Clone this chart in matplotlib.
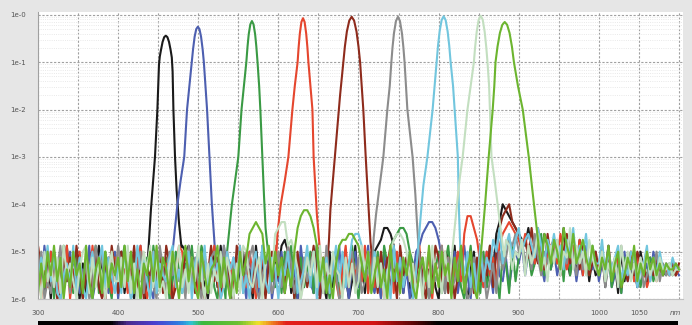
import numpy as np
import matplotlib.pyplot as plt
from matplotlib.colors import LinearSegmentedColormap
from matplotlib.ticker import NullFormatter, LogLocator

# passbands: wavelength (nm) and log10 of transmission
black_nm = [434, 437, 441, 446, 449, 451, 452, 453.5, 455.5, 457.5, 459.5, 461.5, 463.5, 465.5, 467, 468,
            469, 471, 473, 476, 479]
black_log = [-6, -5.2, -4.1, -3.0, -2.0, -1.05, -0.88, -0.74, -0.57, -0.47, -0.44, -0.47, -0.57, -0.74, -0.9, -1.2,
             -2.0, -3.0, -3.7, -4.4, -4.9]

blue_nm = [466, 468, 471, 474, 478, 482.5, 486, 489, 492, 493.5, 495.5, 497.5, 499.5, 501.5, 503.5, 505.5, 507,
           509, 511, 514, 517, 521, 524]
blue_log = [-6, -5, -4.5, -4, -3.5, -3, -2, -1.5, -1, -0.73, -0.46, -0.30, -0.25, -0.30, -0.46, -0.73, -1,
            -1.5, -2, -3, -4, -5, -5.6]

green_nm = [534, 536, 539, 542, 546, 550, 554, 557, 560, 561.5, 563, 565, 567, 569, 571, 572.5, 574, 576, 577.5,
            580, 582, 584, 587, 590]
green_log = [-6, -5, -4.5, -4, -3.5, -3, -2, -1.5, -1, -0.67, -0.41, -0.2, -0.13, -0.2, -0.41, -0.67, -1, -1.5, -2,
             -3, -3.8, -4.5, -5, -5.5]

red_nm = [597, 599, 603, 608, 612.5, 617.5, 620.5, 624, 625.25, 626.75, 628.75, 630.75, 632.75, 634.75, 636.25,
          637.5, 640, 642.5, 644, 646, 648, 650, 653]
red_log = [-5.2, -4.6, -4, -3.5, -3, -2, -1.5, -1, -0.69, -0.4, -0.15, -0.07, -0.15, -0.4, -0.69,
           -1, -1.5, -2, -3, -3.6, -4.2, -4.6, -5.2]

brown_nm = [660, 663, 665, 668, 671, 674, 677, 681, 683, 685.5, 688.5, 691.5, 694.5, 697.5, 700, 702, 704, 706,
            709, 711, 713, 715, 718]
brown_log = [-5.5, -4.8, -4.1, -3.5, -2.9, -2.3, -1.7, -1, -0.67, -0.35, -0.12, -0.04, -0.12, -0.35, -0.67, -1, -1.5,
             -2, -3, -3.6, -4.2, -4.8, -5.3]

gray_nm = [716, 719, 722, 725, 728, 731, 736, 739, 741, 742.5, 744.25, 746.75, 749.25, 751.75, 754.25, 756, 757.5,
           761, 767.5, 771, 773, 775, 778]
gray_log = [-5.6, -4.7, -4.2, -3.8, -3.4, -3, -2, -1.5, -1, -0.68, -0.39, -0.13, -0.04, -0.13, -0.39, -0.68, -1,
            -2, -3, -3.8, -4.4, -4.9, -5.4]

lblue_nm = [771, 774, 777.5, 781, 786, 792.5, 795, 797.5, 799.25, 801.25, 803.75, 806.25, 808.75, 811.25, 813.25,
            815, 818, 820, 824, 825.5, 827, 830]
lblue_log = [-5.6, -5, -4.27, -3.6, -3, -2, -1.5, -1, -0.65, -0.35, -0.11, -0.03, -0.11, -0.35, -0.65,
             -1, -1.5, -2, -3, -4.2, -4.9, -5.5]

pgreen_nm = [814, 817, 820, 823, 826, 830, 836, 840, 844, 845.5, 847.5, 850, 852.5, 855, 857.5, 859.5, 861, 863,
             864, 866, 870, 874, 878, 882]
pgreen_log = [-5.6, -5, -4.5, -4, -3.5, -3, -2, -1.5, -1, -0.69, -0.36, -0.1, -0.02, -0.1, -0.36, -0.69, -1, -1.5,
              -2, -3, -3.5, -4.05, -4.6, -5.1]

green2_nm = [851, 853, 855, 858, 862.5, 867.5, 869.5, 871, 873.5, 876.5, 879.5, 882.5, 885.5, 888.5, 891.5, 894,
             899, 905, 912.5, 917, 921, 925, 928]
green2_log = [-5.4, -5, -4.6, -4, -3, -2, -1.5, -1, -0.67, -0.38, -0.21, -0.15, -0.21, -0.38, -0.67, -1,
              -1.5, -2, -3, -3.7, -4.3, -4.9, -5.4]

# out-of-band noise, one char every 4 nm from 300 nm: log10 T = -6 + int(c, 36) / 8
black_noise = ("37160 82519 37406 18259 30716 48152 07361 00000 00000 98962 "
               "71305 82946 01738 25094 61837 59a81 30627 41953 08261 74039 "
               "26174 89acc b9361 72048 15372 06184 92730 58164 295bd gfedc "
               "ba9c8 6a7b9 5a86c 7495a 68374 58274 61837 46285 37465 45564 5")
blue_noise = ("62948 15073 82615 49037 26158 05382 71946 20837 51000 00000 "
              "00000 00395 17264 08351 92704 38162 50947 31805 62739 14068 "
              "27593 14082 69371 50489 bcddc a7263 81594 07362 85194 37268 "
              "69485 7a639 58476 a5837 49658 36592 47183 56274 63857 45465 4")
green_noise = ("81537 06294 71830 52691 48307 26941 83057 19462 70385 16293 "
               "49718 20635 00000 00000 00072 61849 03725 81936 40581 27394 "
               "05716 38296 9abcc b8614 73025 81693 47205 93618 25740 86193 "
               "7a584 69b47 58693 a4768 57496 47382 56174 83625 47356 54645 5")
red_noise = ("90728 41639 05281 73946 20517 73518 26940 38175 62049 81736 "
             "15826 93047 61593 28406 73159 00000 00000 00004 81630 59274 "
             "63918 27405 91836 47259 13806 49271 583be eca62 84739 bcdcb "
             "a8b79 6c857 9a6b8 5796a 48576 69384 57264 83756 24637 55464 5")
brown_noise = ("95274 60183 72950 46182 07395 18364 92705 47381 96025 38471 "
               "62049 37158 20964 83172 50683 47195 08362 59407 00000 00000 "
               "00000 61837 25094 73618 40529 73816 04925 81736 4928c efgdc "
               "b9a7c 8695b 7a948 b6785 97468 57394 68253 74865 36475 46564 6")
gray_noise = ("48031 75926 18473 60295 81364 95270 34816 72095 18463 50927 "
              "30617 85294 06381 57920 46813 82596 14073 68251 93740 15682 "
              "71354 00000 00000 00000 26083 59172 36840 17295 03618 57a9b "
              "8a695 b7486 97a58 6b749 58675 48265 73946 58372 46583 64556 5")
lblue_noise = ("27593 81046 39172 05836 92741 61840 29573 08164 37925 14806 "
               "83917 46028 57391 40682 93175 06482 71359 28064 71593 826ab "
               "b9472 83615 09372 58000 00000 00000 00048 26193 75a8c 69b7a "
               "c8ab9 7c96a 8b795 a8c69 7b586 6a485 79364 87256 93748 56475 5")
pgreen_noise = ("50836 27194 63058 91726 40583 37291 60485 92713 06849 25173 "
                "94061 53827 40619 83257 0694b cdd9a 85037 48291 63854 07261 "
                "39581 72604 8abba 83615 07294 51837 00000 00000 00000 0a958 "
                "7a496 8b573 96a48 7c596 84a75 58364 72958 36475 84637 55645 5")
green2_noise = ("16284 93705 28461 93057 18264 72938 15064 83927 51840 69372 "
                "08415 69273 05184 7bcdc b6938 47152 8ceff ec937 14069 aabba "
                "96381 47250 93617 48205 73916 28460 73915 82000 00000 00000 "
                "00000 000b9 6a85c 97b68 a7596 47593 68247 59364 85746 46556 5")

filters = [
    (black_nm, black_log, black_noise, '#1a1a1a'),
    (blue_nm, blue_log, blue_noise, '#4d5fb0'),
    (green_nm, green_log, green_noise, '#3a9a44'),
    (red_nm, red_log, red_noise, '#e5462e'),
    (brown_nm, brown_log, brown_noise, '#8e2b1c'),
    (gray_nm, gray_log, gray_noise, '#8c8c8c'),
    (lblue_nm, lblue_log, lblue_noise, '#72c6de'),
    (pgreen_nm, pgreen_log, pgreen_noise, '#c3dfc0'),
    (green2_nm, green2_log, green2_noise, '#6cb52f'),
]

xticks = list(range(300, 1101, 50))
xlabels = ['300', '', '400', '', '500', '', '600', '', '700', '', '800', '', '900', '', '1000', '1050', '']
yticks = [1, 1e-1, 1e-2, 1e-3, 1e-4, 1e-5, 1e-6]
ylabels = ['1e-0', '1e-1', '1e-2', '1e-3', '1e-4', '1e-5', '1e-6']

# colour strip under the chart
spec_nm = [300, 390, 410, 445, 475, 490, 505, 550, 575, 590, 610, 720, 770, 800, 1100]
spec_col = ['#000000', '#000000', '#4b2a8c', '#4a3fd0', '#2f7ce0', '#2fc4d8', '#3cb93c', '#6cc032',
            '#f2e32a', '#f08a22', '#e3201c', '#d31414', '#5a0606', '#000000', '#000000']

fig = plt.figure(figsize=(6.92, 3.25), dpi=100, facecolor='#e6e6e6')
ax = fig.add_axes([38 / 692, 26 / 325, 645 / 692, 287 / 325])
ax.set_facecolor('white')

for nm, lg, noise, col in filters:
    v = np.array([int(c, 36) for c in noise.replace(' ', '')])
    nx = 300 + 4 * np.arange(len(v))
    ny = -6 + v / 8
    x = np.concatenate([nx[nx < nm[0]], nm, nx[nx > nm[-1]]])
    y = np.concatenate([ny[nx < nm[0]], lg, ny[nx > nm[-1]]])
    ax.plot(x, 10 ** y, color=col, lw=1.5, solid_joinstyle='round')

ax.set_yscale('log')
ax.set_xlim(300, 1105)
ax.set_ylim(1e-6, 1.15)
ax.set_xticks(xticks, xlabels)
ax.set_yticks(yticks, ylabels)
ax.yaxis.set_minor_locator(LogLocator(base=10, subs=np.arange(2, 10)))
ax.yaxis.set_minor_formatter(NullFormatter())

ax.grid(True, which='major', color='#a0a0a0', ls=(0, (2, 1.5)), lw=0.8)
ax.grid(True, which='minor', axis='y', color='#e2e2e2', ls=':', lw=0.6)
ax.set_axisbelow(True)

for side in ['top', 'right']:
    ax.spines[side].set_visible(False)
ax.spines['left'].set_color('#a0a0a0')
ax.spines['bottom'].set_color('#c0c0c0')
ax.tick_params(which='both', length=0, labelsize=5, labelcolor='#555555')
ax.tick_params(axis='x', pad=8)
ax.tick_params(axis='y', pad=9)
ax.text(1096, -0.049, 'nm', transform=ax.get_xaxis_transform(), fontsize=5,
        color='#555555', ha='center', va='center', style='italic')

bax = fig.add_axes([36 / 692, 0, 649 / 692, 4.5 / 325])
bax.set_facecolor('black')
cmap = LinearSegmentedColormap.from_list(
    'spec', list(zip([(n - 300) / 800 for n in spec_nm], spec_col)))
bax.imshow(np.linspace(0, 1, 800)[None, :], aspect='auto', cmap=cmap,
           extent=[300, 1100, 0, 1])
bax.set_xlim(297.5, 1108.75)
bax.set_ylim(0, 1)
bax.axis('off')

fig.savefig('out.png', dpi=100, facecolor=fig.get_facecolor())
